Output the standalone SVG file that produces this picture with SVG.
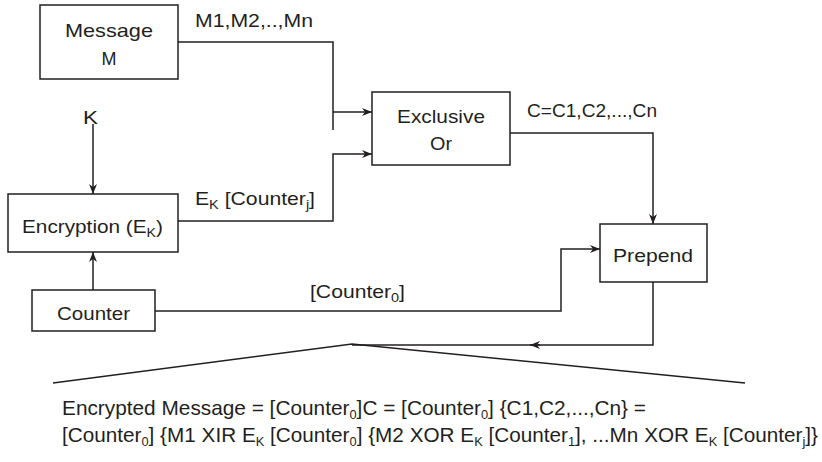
<svg xmlns="http://www.w3.org/2000/svg" width="822" height="462" viewBox="0 0 822 462">
<style>
.box{fill:#fff;stroke:#231f20;stroke-width:1.5}
.ln{fill:none;stroke:#231f20;stroke-width:1.5}
text{font-family:"Liberation Sans",Arial,sans-serif;font-size:19px;fill:#231f20}
.big{font-size:21px}
.sub{font-size:13px}
</style>
<defs>
<marker id="ah" viewBox="0 0 10 10" refX="10" refY="5" markerWidth="10" markerHeight="10" markerUnits="userSpaceOnUse" orient="auto">
<path d="M0,1 L10,5 L0,9 L3,5 Z" fill="#231f20"/>
</marker>
</defs>
<g id="connectors">
<polyline class="ln" points="178,42 333,42 333,130"/>
<line class="ln" x1="333" y1="112" x2="372" y2="112" marker-end="url(#ah)"/>
<polyline class="ln" points="178,221 333,221 333,154 372,154" marker-end="url(#ah)"/>
<line class="ln" x1="93" y1="124" x2="93" y2="194" marker-end="url(#ah)"/>
<line class="ln" x1="93" y1="290" x2="93" y2="252" marker-end="url(#ah)"/>
<polyline class="ln" points="510,133 653,133 653,224" marker-end="url(#ah)"/>
<polyline class="ln" points="155,311 561,311 561,249 600,249" marker-end="url(#ah)"/>
<polyline class="ln" points="653,282 653,345 530,345"/>
<line class="ln" x1="540" y1="345" x2="352" y2="345"/>
<path d="M530,345 L540,341 L537,345 L540,349 Z" fill="#231f20"/>
<polyline class="ln" points="53,383 352,344 745,383"/>
</g>
<g id="message">
<rect class="box" x="40" y="5" width="138" height="74"/>
<text x="109" y="37" text-anchor="middle" textLength="88" lengthAdjust="spacingAndGlyphs">Message</text>
<text x="109" y="65" text-anchor="middle" textLength="15" lengthAdjust="spacingAndGlyphs">M</text>
</g>
<g id="xor">
<rect class="box" x="372" y="92" width="138" height="73"/>
<text x="441" y="123" text-anchor="middle" textLength="88" lengthAdjust="spacingAndGlyphs">Exclusive</text>
<text x="441" y="150" text-anchor="middle" textLength="22" lengthAdjust="spacingAndGlyphs">Or</text>
</g>
<g id="encryption">
<rect class="box" x="8" y="194" width="170" height="58"/>
<text x="22" y="233" textLength="141" lengthAdjust="spacingAndGlyphs">Encryption (E<tspan class="sub" dy="4">K</tspan><tspan dy="-4">)</tspan></text>
</g>
<g id="counter">
<rect class="box" x="32" y="290" width="123" height="41"/>
<text x="57" y="320" textLength="73" lengthAdjust="spacingAndGlyphs">Counter</text>
</g>
<g id="prepend">
<rect class="box" x="600" y="224" width="107" height="58"/>
<text x="613" y="262" textLength="80" lengthAdjust="spacingAndGlyphs">Prepend</text>
</g>
<g id="labels">
<text x="83" y="124" textLength="15" lengthAdjust="spacingAndGlyphs">K</text>
<text x="195" y="27" textLength="118" lengthAdjust="spacingAndGlyphs">M1,M2,..,Mn</text>
<text x="195" y="205" textLength="120" lengthAdjust="spacingAndGlyphs">E<tspan class="sub" dy="4">K</tspan><tspan dy="-4"> [Counter</tspan><tspan class="sub" dy="4">j</tspan><tspan dy="-4">]</tspan></text>
<text x="527" y="117" textLength="130" lengthAdjust="spacingAndGlyphs">C=C1,C2,...,Cn</text>
<text x="310" y="298" textLength="95" lengthAdjust="spacingAndGlyphs">[Counter<tspan class="sub" dy="4">0</tspan><tspan dy="-4">]</tspan></text>
<text class="big" x="62" y="415" textLength="584" lengthAdjust="spacingAndGlyphs">Encrypted Message = [Counter<tspan class="sub" dy="4">0</tspan><tspan dy="-4">]C = [Counter</tspan><tspan class="sub" dy="4">0</tspan><tspan dy="-4">] {C1,C2,...,Cn} =</tspan></text>
<text class="big" x="62" y="442" textLength="756" lengthAdjust="spacingAndGlyphs">[Counter<tspan class="sub" dy="4">0</tspan><tspan dy="-4">] {M1 XIR E</tspan><tspan class="sub" dy="4">K</tspan><tspan dy="-4"> [Counter</tspan><tspan class="sub" dy="4">0</tspan><tspan dy="-4">] {M2 XOR E</tspan><tspan class="sub" dy="4">K</tspan><tspan dy="-4"> [Counter</tspan><tspan class="sub" dy="4">1</tspan><tspan dy="-4">], ...Mn XOR E</tspan><tspan class="sub" dy="4">K</tspan><tspan dy="-4"> [Counter</tspan><tspan class="sub" dy="4">j</tspan><tspan dy="-4">]}</tspan></text>
</g>
</svg>
